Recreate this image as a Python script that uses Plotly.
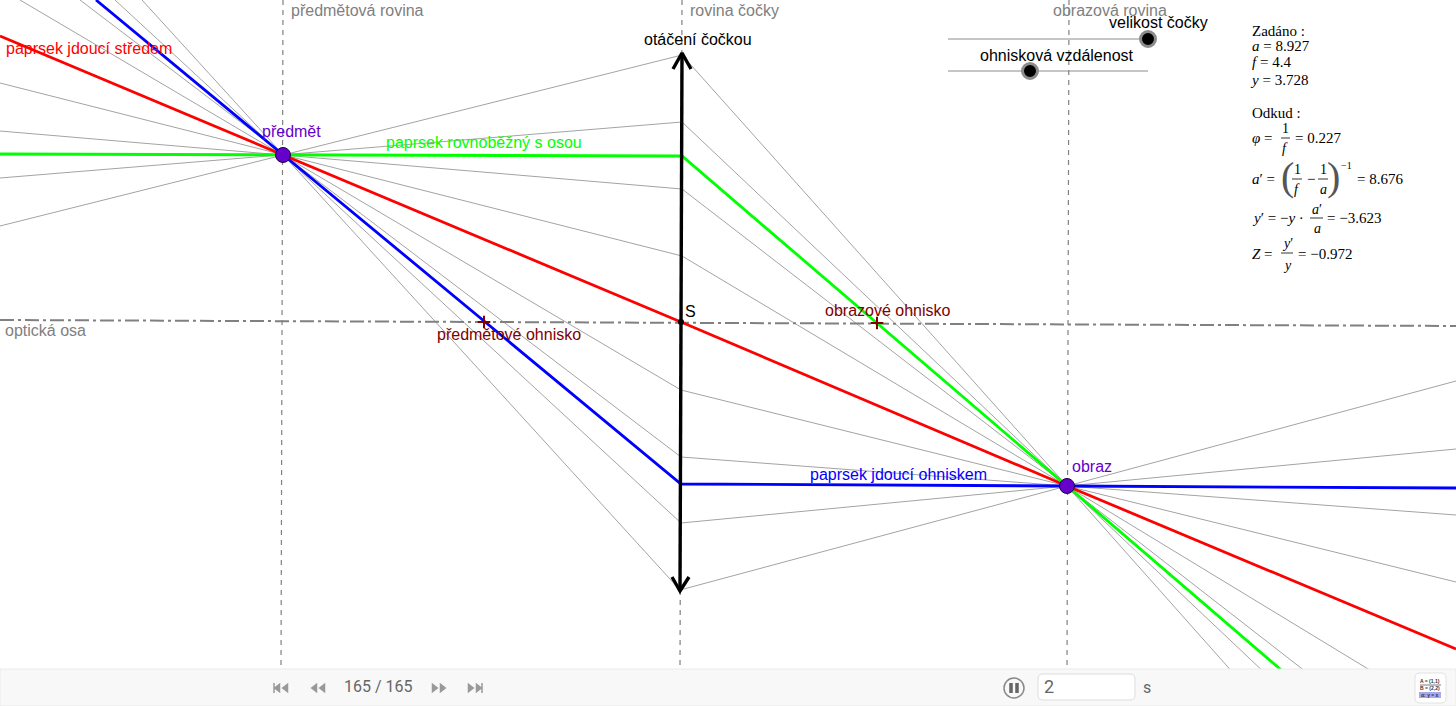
# -*- coding: utf-8 -*-
# Thin lens ray diagram - all positions are in screen pixels of the 1456x706 window

import plotly.graph_objects as go

W = 1456
H = 706
BAR_TOP = 669

# gray rays: far left end, point on the lens, far right end (they all cross the image point)
ray_left_x = [0, 0, 0, 0, 20, 80, 115, 142]
ray_left_y = [226, 178, 131, 83, 0, 0, 0, 0]
ray_lens_x = [682, 682, 682, 682, 681, 681, 681, 680]
ray_lens_y = [55, 122, 189, 256, 390, 457, 523, 590]
ray_right_x = [1235, 1267, 1310, 1378, 1456, 1456, 1456, 1456]
ray_right_y = [675, 675, 675, 675, 582, 515, 449, 381]

object_pt = (283, 155)
image_pt = (1067, 486)
center_pt = (681, 322)
focus_x = [484, 877]
focus_y = [322, 323]

red_x = [0, 283, 681, 1067, 1456]
red_y = [36, 155, 322, 486, 649]
green_x = [0, 283, 682, 1067, 1287]
green_y = [154, 155, 156, 486, 675]
blue_x = [96, 283, 681, 1067, 1456]
blue_y = [0, 155, 484, 486, 488]

guide_x = [[283, 281], [682, 680], [1069, 1067]]
guide_y = [0, BAR_TOP]
axis_x = [0, 1456]
axis_y = [320, 326]

lens_x = [682, 680]
lens_y = [53, 591]
head_top_x = [673, 682, 691]
head_top_y = [69, 53, 69]
head_bot_x = [672, 680, 689]
head_bot_y = [577, 591, 577]

slider_x = [948, 1148]
slider_y = [39, 71]
knob_x = [1148, 1030]
knob_y = [39, 71]

SANS = "Liberation Sans"
SERIF = "Liberation Serif"

# text, x, y, size, colour
labels = [
    ("předmětová rovina", 290, 10, 16, "#808080"),
    ("rovina čočky", 689, 10, 16, "#808080"),
    ("obrazová rovina", 1052, 10, 16, "#808080"),
    ("velikost čočky", 1108, 22, 16, "#000000"),
    ("ohnisková vzdálenost", 979, 55, 16, "#000000"),
    ("otáčení čočkou", 643, 39, 16, "#000000"),
    ("paprsek jdoucí středem", 5, 48, 16, "#ff0000"),
    ("paprsek rovnoběžný s osou", 385, 142, 16, "#00ff00"),
    ("paprsek jdoucí ohniskem", 809, 474, 16, "#0000ff"),
    ("předmět", 261, 131, 16, "#6600cc"),
    ("obraz", 1071, 466, 16, "#6600cc"),
    ("S", 684, 311, 16, "#000000"),
    ("optická osa", 4, 330, 16, "#808080"),
    ("předmětové ohnisko", 436, 334, 16, "#800000"),
    ("obrazové ohnisko", 824, 310, 16, "#800000"),
]
bar_labels = [
    ("165 / 165", 343, 686, 16),
    ("2", 1043, 686, 18),
    ("s", 1142, 687, 16),
]

# formula panel
math_labels = [
    ("Zadáno :", 1251, 31, 15),
    ("<i>a</i> = 8.927", 1251, 46, 15),
    ("<i>f</i> = 4.4", 1251, 62, 15),
    ("<i>y</i> = 3.728", 1249, 80, 15),
    ("Odkud :", 1251, 113, 15),
    ("<i>φ</i> =", 1251, 138, 15),
    ("= 0.227", 1294, 138, 15),
    ("<i>a</i>′ =", 1251, 179, 15),
    ("−", 1306, 179, 15),
    ("= 8.676", 1356, 179, 15),
    ("<i>y</i>′ = −<i>y</i> ·", 1251, 218, 15),
    ("= −3.623", 1326, 218, 15),
    ("<i>Z</i> =", 1251, 254, 15),
    ("= −0.972", 1297, 254, 15),
    ("−1", 1340, 165, 10),
]
# numerator / denominator pieces are centred on their bar
frac_labels = [
    ("1", 1285, 128, 14), ("<i>f</i>", 1285, 148, 14),
    ("1", 1297, 169, 14), ("<i>f</i>", 1297, 189, 14),
    ("1", 1323, 169, 14), ("<i>a</i>", 1323, 189, 14),
    ("<i>a</i>′", 1317, 209, 14), ("<i>a</i>", 1317, 228, 14),
    ("<i>y</i>′", 1287, 243, 14), ("<i>y</i>", 1287, 265, 14),
]
frac_bar_x = [(1281, 1290), (1292, 1302), (1318, 1328), (1310, 1323), (1281, 1293)]
frac_bar_y = [138, 179, 179, 218, 253]

fig = go.Figure()


def add_line(xs, ys, color, width, dash=None):
    fig.add_trace(go.Scatter(x=xs, y=ys, mode="lines", hoverinfo="skip",
                             line=dict(color=color, width=width, dash=dash)))


for i in range(len(ray_lens_x)):
    add_line([ray_left_x[i], ray_lens_x[i], image_pt[0], ray_right_x[i]],
             [ray_left_y[i], ray_lens_y[i], image_pt[1], ray_right_y[i]], "#a3a3a3", 1)

for g in guide_x:
    add_line(g, guide_y, "#808080", 1.2, "5px,5px")
add_line(axis_x, axis_y, "#808080", 2, "14px,4px,3px,4px")
add_line(slider_x, [slider_y[0]] * 2, "#8c8c8c", 1)
add_line(slider_x, [slider_y[1]] * 2, "#8c8c8c", 1)

add_line(red_x, red_y, "#ff0000", 2.8)
add_line(green_x, green_y, "#00ff00", 2.8)
add_line(blue_x, blue_y, "#0000ff", 2.8)

add_line(lens_x, lens_y, "#000000", 3.4)
add_line(head_top_x, head_top_y, "#000000", 3.4)
add_line(head_bot_x, head_bot_y, "#000000", 3.4)

# bottom player bar
fig.add_trace(go.Scatter(x=[0, W, W, 0, 0], y=[BAR_TOP, BAR_TOP, H, H, BAR_TOP],
                         mode="lines", fill="toself", fillcolor="#f8f8f8",
                         line=dict(color="#eaeaea", width=1), hoverinfo="skip"))

fig.add_trace(go.Scatter(x=[object_pt[0], image_pt[0]], y=[object_pt[1], image_pt[1]],
                         mode="markers", hoverinfo="skip",
                         marker=dict(size=15, color="#6600cc", line=dict(color="#1a0040", width=1))))
fig.add_trace(go.Scatter(x=focus_x, y=focus_y, mode="markers", hoverinfo="skip",
                         marker=dict(symbol="cross-thin", size=9, line=dict(color="#800000", width=2))))
fig.add_trace(go.Scatter(x=[center_pt[0]], y=[center_pt[1]], mode="markers", hoverinfo="skip",
                         marker=dict(size=6, color="#000000")))
fig.add_trace(go.Scatter(x=knob_x, y=knob_y, mode="markers", hoverinfo="skip",
                         marker=dict(size=15, color="#000000", line=dict(color="#8c8c8c", width=3))))

for (x0, x1), y in zip(frac_bar_x, frac_bar_y):
    add_line([x0, x1], [y, y], "#000000", 0.8)

# player controls
icon_x = [282, 319, 438, 474]
for i, x in enumerate(icon_x):
    sym = "triangle-left" if i < 2 else "triangle-right"
    fig.add_trace(go.Scatter(x=[x - 4, x + 4], y=[688, 688], mode="markers", hoverinfo="skip",
                             marker=dict(symbol=sym, size=9, color="#999999")))
add_line([274, 274], [683, 693], "#999999", 1.5)
add_line([482, 482], [683, 693], "#999999", 1.5)
fig.add_trace(go.Scatter(x=[1014], y=[688], mode="markers", hoverinfo="skip",
                         marker=dict(size=20, color="#f8f8f8", line=dict(color="#888888", width=1.5))))
add_line([1011, 1011], [683, 693], "#666666", 3.5)
add_line([1017, 1017], [683, 693], "#666666", 3.5)


def rounded_box(x0, y0, x1, y1, r, fill, line):
    path = (f"M {x0+r} {y0} L {x1-r} {y0} Q {x1} {y0} {x1} {y0+r} L {x1} {y1-r} "
            f"Q {x1} {y1} {x1-r} {y1} L {x0+r} {y1} Q {x0} {y1} {x0} {y1-r} "
            f"L {x0} {y0+r} Q {x0} {y0} {x0+r} {y0} Z")
    fig.add_shape(type="path", path=path, fillcolor=fill, line=dict(color=line, width=1))


rounded_box(1038, 674, 1135, 700, 5, "#ffffff", "#dddddd")
rounded_box(1415, 673, 1446, 703, 5, "#ffffff", "#e2e2e2")
fig.add_shape(type="rect", x0=1419, x1=1441, y0=692, y1=698,
              fillcolor="#a8a8f0", line=dict(width=0))
fig.add_shape(type="line", x0=1420, x1=1441, y0=685, y1=685, line=dict(color="#444444", width=0.7))

for text, x, y, size, color in labels:
    fig.add_annotation(x=x, y=y, text=text, showarrow=False, xanchor="left", yanchor="middle",
                       borderpad=0, font=dict(family=SANS, size=size, color=color))
for text, x, y, size in bar_labels:
    fig.add_annotation(x=x, y=y, text=text, showarrow=False, xanchor="left", yanchor="middle",
                       borderpad=0, font=dict(family="Roboto", size=size, color="#666666"))
for text, x, y, size in math_labels:
    fig.add_annotation(x=x, y=y, text=text, showarrow=False, xanchor="left", yanchor="middle",
                       borderpad=0, font=dict(family=SERIF, size=size, color="#000000"))
for text, x, y, size in frac_labels:
    fig.add_annotation(x=x, y=y, text=text, showarrow=False, xanchor="center", yanchor="middle",
                       borderpad=0, font=dict(family=SERIF, size=size, color="#000000"))
# the big brackets of the a' formula
for text, x in (("(", 1287), (")", 1333)):
    fig.add_annotation(x=x, y=176, text=text, showarrow=False, xanchor="center", yanchor="middle",
                       borderpad=0, font=dict(family=SERIF, size=40, color="#555555"))
for text, y in (("A = (1,1)", 681), ("B = (2,2)", 688), ("α: y = x", 695)):
    fig.add_annotation(x=1430, y=y, text="<b>" + text + "</b>", showarrow=False, xanchor="center",
                       yanchor="middle", borderpad=0, font=dict(family=SANS, size=5, color="#333333"))

fig.update_layout(
    width=W, height=H, showlegend=False, paper_bgcolor="#ffffff", plot_bgcolor="#ffffff",
    margin=dict(l=0, r=0, t=0, b=0),
    xaxis=dict(range=[0, W], visible=False, fixedrange=True),
    yaxis=dict(range=[H, 0], visible=False, fixedrange=True),
)

# the page margin would push the picture 8px down and to the right
fig.write_html("out.html", config=dict(displayModeBar=False),
               post_script="document.body.style.margin='0';document.documentElement.style.overflow='hidden';")
